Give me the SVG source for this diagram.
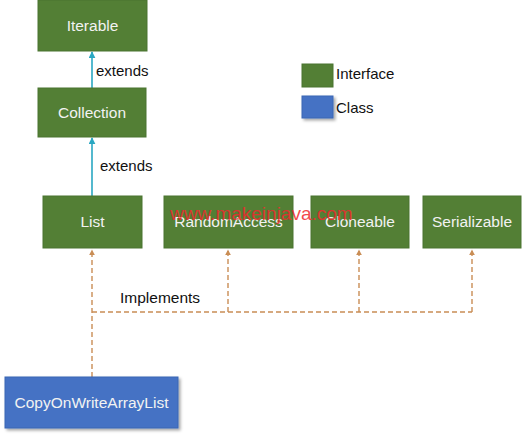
<svg xmlns="http://www.w3.org/2000/svg" width="522" height="434" viewBox="0 0 522 434">
<defs>
<style>
.iface{fill:#537F35;stroke:#4A7430;stroke-width:1}
.cls{fill:#4472C4;stroke:#3B66B3;stroke-width:1}
.lbl{font-family:"Liberation Sans",Arial,sans-serif;font-size:15.5px;fill:#F2F2F2;text-anchor:middle}
.txt{font-family:"Liberation Sans",Arial,sans-serif;font-size:15px;fill:#111}
.ext{stroke:#2AA7C2;stroke-width:1.6;fill:none}
.impl{stroke:#C98D55;stroke-width:1.4;fill:none;stroke-dasharray:5 3}
</style>
<marker id="ah" viewBox="0 0 10 10" refX="9" refY="5" markerWidth="7" markerHeight="7" orient="auto-start-reverse" markerUnits="userSpaceOnUse">
<path d="M0,0 L10,5 L0,10 z" fill="#2AA7C2"/>
</marker>
<marker id="oh" viewBox="0 0 10 10" refX="9" refY="5" markerWidth="6" markerHeight="6" orient="auto-start-reverse" markerUnits="userSpaceOnUse">
<path d="M0,0 L10,5 L0,10 z" fill="#C98D55"/>
</marker>
<filter id="sh" x="-10%" y="-20%" width="125%" height="150%">
<feDropShadow dx="2" dy="2" stdDeviation="1.5" flood-color="#000" flood-opacity="0.35"/>
</filter>
</defs>
<rect width="522" height="434" fill="#fff"/>
<g id="connectors">
<line class="ext" x1="92" y1="88" x2="92" y2="52" marker-end="url(#ah)"/>
<line class="ext" x1="92" y1="196" x2="92" y2="138" marker-end="url(#ah)"/>
<line class="impl" x1="92" y1="377" x2="92" y2="250" marker-end="url(#oh)"/>
<polyline class="impl" points="92,312 472,312"/>
<line class="impl" x1="228" y1="312" x2="228" y2="250" marker-end="url(#oh)"/>
<line class="impl" x1="359" y1="312" x2="359" y2="250" marker-end="url(#oh)"/>
<line class="impl" x1="472" y1="312" x2="472" y2="250" marker-end="url(#oh)"/>
<text class="txt" x="96" y="76">extends</text>
<text class="txt" x="100" y="171">extends</text>
<text class="txt" x="120" y="303" style="font-size:15.5px">Implements</text>
</g>
<g id="iterable"><rect class="iface" x="38" y="0" width="109" height="51"/><text class="lbl" x="92.5" y="31">Iterable</text></g>
<g id="collection"><rect class="iface" x="38" y="88" width="108" height="49"/><text class="lbl" x="92" y="118">Collection</text></g>
<g id="list"><rect class="iface" x="43" y="196" width="99" height="52"/><text class="lbl" x="92.5" y="227">List</text></g>
<g id="randomaccess"><rect class="iface" x="164" y="196" width="129" height="52"/><text class="lbl" x="228.5" y="227">RandomAccess</text></g>
<g id="cloneable"><rect class="iface" x="311" y="196" width="98" height="52"/><text class="lbl" x="360" y="227">Cloneable</text></g>
<g id="serializable"><rect class="iface" x="423" y="196" width="98" height="52"/><text class="lbl" x="472" y="227">Serializable</text></g>
<g id="copyonwritearraylist"><rect class="cls" x="5" y="377" width="173" height="51" filter="url(#sh)"/><text class="lbl" x="91.5" y="408">CopyOnWriteArrayList</text></g>
<g id="legend">
<rect class="iface" x="302" y="64" width="31" height="23"/>
<text class="txt" x="336" y="79">Interface</text>
<rect class="cls" x="302" y="96" width="31" height="22" filter="url(#sh)"/>
<text class="txt" x="336" y="113">Class</text>
</g>
<text x="170" y="220" style="font-family:'Liberation Sans',Arial,sans-serif;font-size:19px;fill:#F0282D;fill-opacity:0.85">www.makeinjava.com</text>
</svg>
